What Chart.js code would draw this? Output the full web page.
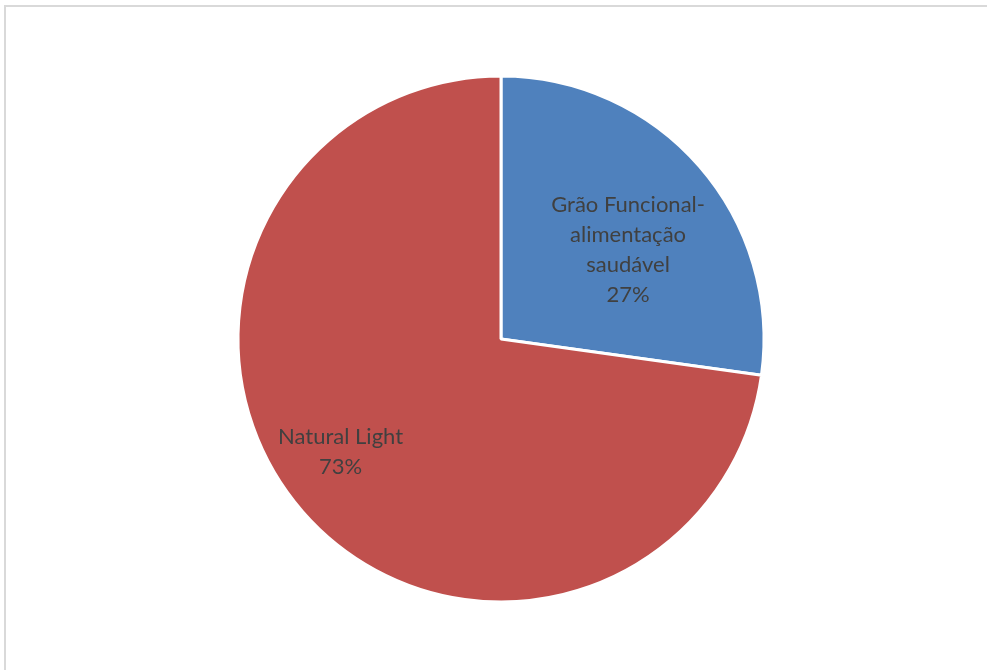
<!DOCTYPE html>
<html>
<head>
<meta charset="utf-8">
<script src="https://cdn.jsdelivr.net/npm/chart.js@4"></script>
<style>
    html, body { margin: 0; padding: 0; background: #fff; }
    .frame {
        position: absolute;
        left: 4px; top: 5px;
        width: 1000px; height: 700px;
        border-left: 2px solid #d9d9d9;
        border-top: 2px solid #d9d9d9;
    }
    .wrap { position: absolute; left: 0; top: 0; width: 987px; height: 670px; }
</style>
</head>
<body>
<div class="frame"></div>
<div class="wrap"><canvas id="pie"></canvas></div>
<script>
const labels = ['Grão Funcional-\nalimentação\nsaudável', 'Natural Light'];
const values = [27.2, 72.8];
const colors = ['#4f81bd', '#c0504d'];

// label placement relative to each slice: extra angle (deg) and distance as fraction of radius
const labelPlace = [
    { dAngle: 6, frac: 0.59 },
    { dAngle: 6, frac: 0.745 }
];

const sliceLabels = {
    id: 'sliceLabels',
    afterDatasetsDraw(chart) {
        const ctx = chart.ctx;
        const meta = chart.getDatasetMeta(0);
        const total = values.reduce((a, b) => a + b, 0);
        ctx.save();
        ctx.font = '22px Lato';
        ctx.fillStyle = '#404040';
        ctx.textAlign = 'center';
        ctx.textBaseline = 'middle';
        meta.data.forEach((arc, i) => {
            const { x, y, startAngle, endAngle, outerRadius } = arc.getProps(['x', 'y', 'startAngle', 'endAngle', 'outerRadius'], true);
            const mid = (startAngle + endAngle) / 2 + labelPlace[i].dAngle * Math.PI / 180;
            const r = outerRadius * labelPlace[i].frac;
            const cx = x + Math.cos(mid) * r;
            const cy = y + Math.sin(mid) * r;
            const lines = labels[i].split('\n');
            lines.push(Math.round(values[i] / total * 100) + '%');
            const lh = 30;
            lines.forEach((t, k) => {
                ctx.fillText(t, cx, cy + (k - (lines.length - 1) / 2) * lh);
            });
        });
        ctx.restore();
    }
};

new Chart(document.getElementById('pie'), {
    type: 'pie',
    data: {
        labels: labels,
        datasets: [{
            data: values,
            backgroundColor: colors,
            borderColor: '#ffffff',
            borderWidth: 3
        }]
    },
    options: {
        responsive: true,
        maintainAspectRatio: false,
        animation: false,
        radius: 263,
        layout: { padding: { left: 15, right: 0, top: 77, bottom: 69 } },
        plugins: {
            legend: { display: false },
            tooltip: { enabled: false }
        }
    },
    plugins: [sliceLabels]
});
</script>
</body>
</html>
